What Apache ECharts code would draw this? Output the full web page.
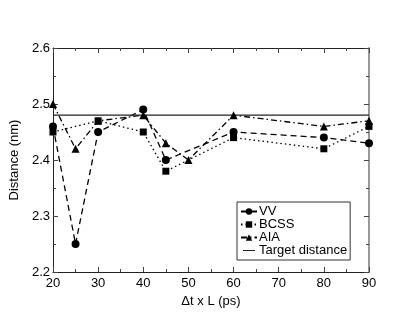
<!DOCTYPE html>
<html><head><meta charset="utf-8">
<script src="https://cdn.jsdelivr.net/npm/echarts@6/dist/echarts.min.js"></script>
<style>html,body{margin:0;padding:0;background:#fff}#c{width:415px;height:321px}</style>
</head><body><div id="c"></div>
<script>
const vvX = [20, 25, 30, 40, 45, 60, 80, 90];
const vvY = [2.46, 2.25, 2.45, 2.49, 2.40, 2.45, 2.44, 2.43];
const bcssX = [20, 30, 40, 45, 60, 80, 90];
const bcssY = [2.45, 2.47, 2.45, 2.38, 2.44, 2.42, 2.46];
const aiaX = [20, 25, 30, 40, 45, 50, 60, 80, 90];
const aiaY = [2.50, 2.42, 2.47, 2.48, 2.43, 2.40, 2.48, 2.46, 2.47];
const targetX = [20, 90];
const targetY = [2.48, 2.48];
const xTicks = [20, 30, 40, 50, 60, 70, 80, 90];
const yTicks = [2.2, 2.3, 2.4, 2.5, 2.6];

const zip = (a, b) => a.map((v, i) => [v, b[i]]);
const font = 'Liberation Sans, Arial, sans-serif';
const axisCommon = {
  type: 'value',
  axisLine: { show: true, lineStyle: { color: '#222', width: 1 } },
  axisTick: { show: true, inside: true, length: 5, lineStyle: { color: '#444' } },
  minorTick: { show: true, splitNumber: 2, length: 3, lineStyle: { color: '#444' } },
  splitLine: { show: false },
  minorSplitLine: { show: false }
};
const lineIcon = 'path://M0,0 L0.01,0 L0,0 Z M2,3.5 L14,3.5 L14,4.5 L2,4.5 Z M16,8 L15.99,8 L16,8 Z';
const chart = echarts.init(document.getElementById('c'), null, { renderer: 'canvas' });
chart.setOption({
  animation: false,
  backgroundColor: '#fff',
  grid: { left: 48, right: 46, top: 48, bottom: 49 },
  xAxis: [
    Object.assign({}, axisCommon, {
      min: xTicks[0], max: xTicks[xTicks.length - 1], interval: 10, position: 'bottom',
      name: 'Δt x L (ps)', nameLocation: 'middle', nameGap: 20,
      nameTextStyle: { fontFamily: font, fontSize: 13, color: '#000' },
      axisLabel: { fontFamily: font, fontSize: 13, color: '#000', margin: 5 }
    }),
    Object.assign({}, axisCommon, {
      min: xTicks[0], max: xTicks[xTicks.length - 1], interval: 10, position: 'top',
      axisLabel: { show: false }
    })
  ],
  yAxis: [
    Object.assign({}, axisCommon, {
      min: yTicks[0], max: yTicks[yTicks.length - 1], interval: 0.1, position: 'left',
      name: 'Distance (nm)', nameLocation: 'middle', nameGap: 24,
      nameTextStyle: { fontFamily: font, fontSize: 13, color: '#000' },
      axisLabel: { fontFamily: font, fontSize: 13, color: '#000', margin: 3,
        formatter: v => v.toFixed(1) }
    }),
    Object.assign({}, axisCommon, {
      min: yTicks[0], max: yTicks[yTicks.length - 1], interval: 0.1, position: 'right',
      axisLine: { show: true, lineStyle: { color: '#999', width: 2 } },
      axisLabel: { show: false }
    })
  ],
  legend: {
    orient: 'vertical', left: 237, top: 202,
    borderColor: '#333', borderWidth: 1, padding: [3, 3, 3, 3],
    itemGap: 0, itemWidth: 16, itemHeight: 8,
    textStyle: { fontFamily: font, fontSize: 13, color: '#000', padding: [0, 0, 0, -3] },
    data: ['VV', 'BCSS', 'AIA', { name: 'Target distance', icon: lineIcon }]
  },
  series: [
    { name: 'VV', type: 'line', data: zip(vvX, vvY), symbol: 'circle', symbolSize: 8,
      itemStyle: { color: '#000' }, lineStyle: { color: '#000', width: 1.3, type: [6, 4] } },
    { name: 'BCSS', type: 'line', data: zip(bcssX, bcssY), symbol: 'rect', symbolSize: 7,
      itemStyle: { color: '#000' }, lineStyle: { color: '#000', width: 1.3, type: [1.5, 3] } },
    { name: 'AIA', type: 'line', data: zip(aiaX, aiaY), symbol: 'triangle', symbolSize: 8,
      itemStyle: { color: '#000' }, lineStyle: { color: '#000', width: 1.3, type: [6, 3, 1.5, 3] } },
    { name: 'Target distance', type: 'line', data: zip(targetX, targetY), symbol: 'none',
      itemStyle: { color: '#222' }, lineStyle: { color: '#222', width: 1.2 } }
  ]
});
</script></body></html>
